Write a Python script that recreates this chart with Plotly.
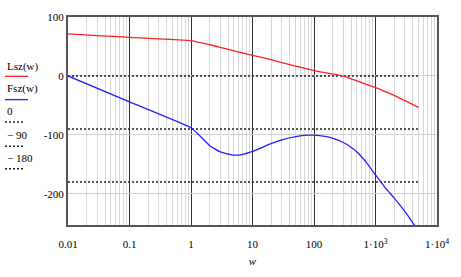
import plotly.graph_objects as go

# ---- data ----
w_L = [0.01, 0.03, 0.1, 0.3, 1, 2, 3, 5, 10, 20, 30, 50, 100, 200, 300, 500, 1000, 2000, 3000, 5000]
Lsz = [71.5, 68.5, 65.5, 63, 60, 53, 48.5, 42.5, 35, 27.5, 22.6, 16.8, 9, 3.3, -0.5, -8.5, -20, -33, -42, -53.5]

w_F = [0.01, 0.1, 1, 1.5, 2, 3, 5, 7, 10, 20, 30, 50, 80, 100, 150, 200, 300, 400, 500, 700, 1000, 1500, 2000, 3000, 4300, 5000]
Fsz = [0, -44, -88, -105, -118, -129, -134.5, -133, -128, -115, -108.6, -103, -100.5, -100.5, -102.5, -105.5, -113, -121, -129, -146, -168, -192, -207, -230, -253, -262]

ref_w = [0.01, 5000]
ref_levels = [0, -90, -180]

x_tickvals = [0.01, 0.1, 1, 10, 100, 1000, 10000]
x_ticktext = ["0.01", "0.1", "1", "10", "100", "1\u00b710<sup>3</sup>", "1\u00b710<sup>4</sup>"]
y_tickvals = [100, 0, -100, -200]
y_ticktext = ["100", "0", "-100", "-200"]

legend_labels = ["Lsz(w)", "Fsz(w)", "0", "\u2212 90", "\u2212 180"]

FONT = "Liberation Serif"

fig = go.Figure()
for lev in ref_levels:
    fig.add_trace(go.Scatter(x=ref_w, y=[lev, lev], mode="lines",
                             line=dict(color="#222", width=1.5, dash="2px,2px"),
                             showlegend=False, hoverinfo="skip"))
fig.add_trace(go.Scatter(x=w_L, y=Lsz, mode="lines", line=dict(color="#ff2020", width=1.3, shape="spline", smoothing=0.4),
                         showlegend=False))
fig.add_trace(go.Scatter(x=w_F, y=Fsz, mode="lines", line=dict(color="#2020ff", width=1.3, shape="spline", smoothing=0.4),
                         showlegend=False))

fig.update_layout(
    width=461, height=277,
    margin=dict(l=68, r=24, t=11, b=52),
    paper_bgcolor="white", plot_bgcolor="white",
    font=dict(family=FONT, size=11, color="black"),
)
fig.update_xaxes(type="log", range=[-2, 4],
                 tickvals=x_tickvals, ticktext=x_ticktext,
                 showgrid=True, gridcolor="#333", gridwidth=1,
                 minor=dict(dtick="D1", showgrid=True, gridcolor="#d8d8d8", gridwidth=1, ticks=""),
                 showline=True, linecolor="#555", linewidth=2, mirror=True,
                 ticks="", ticklabelstandoff=8,
                 title=dict(text="<i>w</i>", standoff=8, font=dict(family=FONT, size=11)),
                 tickfont=dict(family=FONT, size=11),
                 zeroline=False)
fig.update_yaxes(range=[-253, 100],
                 tickvals=y_tickvals, ticktext=y_ticktext,
                 showgrid=True, gridcolor="#cfcfcf", gridwidth=1,
                 showline=True, linecolor="#555", linewidth=2, mirror=True,
                 tickfont=dict(family=FONT, size=11),
                 ticks="", zeroline=False)

# legend (Mathcad style: label above line sample)
leg_text_y = [62, 85, 108, 132, 156]
leg_line_y = [72, 96, 119, 144, 167]
leg_styles = [dict(color="#ff2020", width=1.3), dict(color="#2020ff", width=1.3),
              dict(color="#222", width=1.5, dash="2px,2px"),
              dict(color="#222", width=1.5, dash="2px,2px"),
              dict(color="#222", width=1.5, dash="2px,2px")]
leg_line_len = [23, 23, 19, 19, 19]
H = 277
for lab, ty, ly, st, ll in zip(legend_labels, leg_text_y, leg_line_y, leg_styles, leg_line_len):
    fig.add_annotation(xref="paper", yref="paper", x=(5 - 68) / 369, y=(H - 52 - ty) / 214,
                       text=lab, showarrow=False, xanchor="left", yanchor="middle",
                       font=dict(family=FONT, size=11, color="black"))
    fig.add_shape(type="line", xref="paper", yref="paper",
                  x0=(5 - 68) / 369, x1=(5 + ll - 68) / 369,
                  y0=(H - 52 - ly) / 214, y1=(H - 52 - ly) / 214, line=st)

fig.write_html("out.html")
